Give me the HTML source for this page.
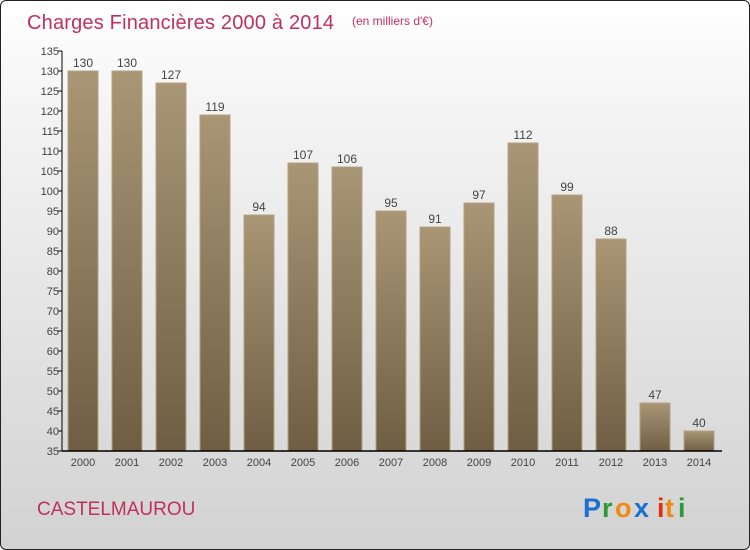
<!DOCTYPE html>
<html><head><meta charset="utf-8"><style>
html,body{margin:0;padding:0;width:750px;height:550px;overflow:hidden}
#frame{position:absolute;left:0;top:0;width:748px;height:548px;border:1px solid #222;border-radius:6px;background:linear-gradient(#ffffff,#f4f4f4 20%,#d2d2d2);overflow:hidden}
svg{position:absolute;left:0;top:0}
text{font-family:"Liberation Sans",sans-serif}
</style></head><body>
<div id="frame">
<svg id="chart" width="750" height="550">
<defs><linearGradient id="bg" x1="0" y1="0" x2="0" y2="1"><stop offset="0" stop-color="#a89676"/><stop offset="1" stop-color="#6f5e43"/></linearGradient></defs>
<text x="26" y="28" font-size="20" fill="#c0305e" textLength="307">Charges Financières 2000 à 2014</text>
<text x="351" y="24" font-size="12" fill="#c0305e">(en milliers d'€)</text>
<text x="36" y="514" font-size="19" fill="#c0305e">CASTELMAUROU</text>
<g font-size="27" font-weight="bold" font-family="Liberation Sans,sans-serif">
<text x="582" y="516" fill="#1a6fd0">P</text><text x="601" y="516" fill="#2a9a3a">r</text><text x="614" y="516" fill="#f08a10">o</text><text x="633" y="516" fill="#1a6fd0">x</text><text x="656" y="516" fill="#e03010">i</text><text x="664" y="516" fill="#f08a10">t</text><text x="677" y="516" fill="#2a9a3a">i</text>
</g>
</svg>
</div>
<script>
const years=["2000","2001","2002","2003","2004","2005","2006","2007","2008","2009","2010","2011","2012","2013","2014"];
const values=[130,130,127,119,94,107,106,95,91,97,112,99,88,47,40];
const yTicks=[35,40,45,50,55,60,65,70,75,80,85,90,95,100,105,110,115,120,125,130,135];
const svg=document.getElementById('chart');
const NS='http://www.w3.org/2000/svg';
const yMin=35,yMax=135,top0=50,bot=450,left=61,right=721;
const y=v=>bot-(v-yMin)/(yMax-yMin)*(bot-top0);
const x=i=>82+i*44;
function mk(t,a){const e=document.createElementNS(NS,t);for(const k in a)e.setAttribute(k,a[k]);svg.appendChild(e);return e;}
values.forEach((v,i)=>{
 const r=mk('rect',{x:x(i)-15,y:y(v),width:30,height:bot-y(v),fill:'url(#bg)',stroke:'#b4a282','stroke-width':1});
 
 
 const t=mk('text',{x:x(i),y:y(v)-4,'font-size':12,'text-anchor':'middle',fill:'#444'});t.textContent=v;
 
 
 const xl=mk('text',{x:x(i),y:bot+15,'font-size':11,'text-anchor':'middle',fill:'#444'});xl.textContent=years[i];
 
 
});
yTicks.forEach(v=>{
 mk('line',{x1:left-4,x2:left,y1:y(v),y2:y(v),stroke:'#000'});
 const t=mk('text',{x:left-3,y:y(v)+4,'font-size':11,'text-anchor':'end',fill:'#444'});t.textContent=v;
 
 
});
const ya=mk('line',{x1:left,x2:left,y1:top0,y2:bot,stroke:'#000'});


const xa=mk('line',{x1:left,x2:right,y1:bot,y2:bot,stroke:'#000','stroke-width':1.5});


</script>
</body></html>
